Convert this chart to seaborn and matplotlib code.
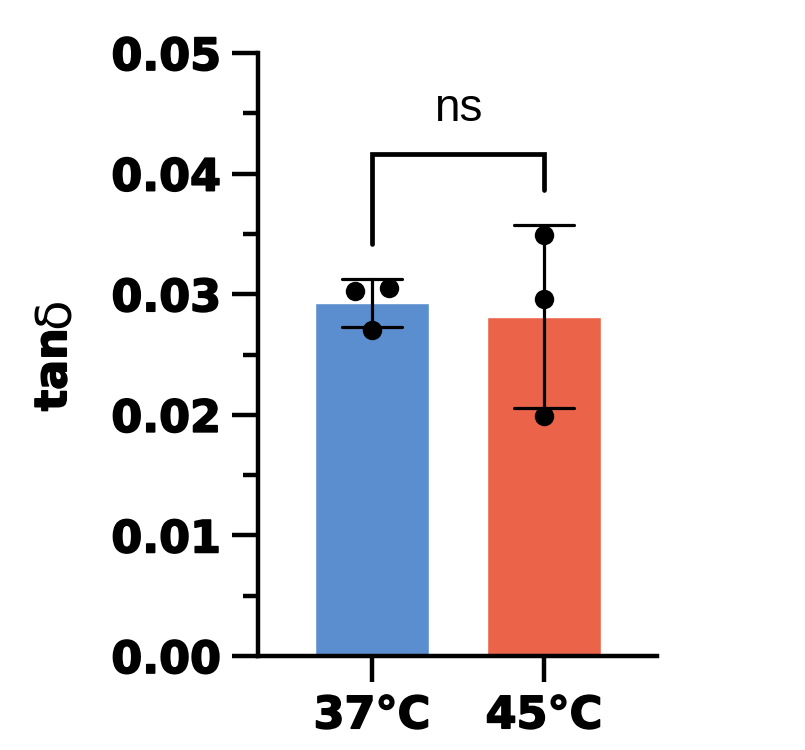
import numpy as np
import pandas as pd
import matplotlib.pyplot as plt
import matplotlib.patheffects as pe
import seaborn as sns

# datos
grupos = ['37°C', '45°C']
valores_37 = [0.0305, 0.0303, 0.0270]
valores_45 = [0.0349, 0.0296, 0.0199]
colores = ['#5B8ECE', '#EB644A']
etiqueta_sig = 'ns'

df = pd.DataFrame({
    'grupo': [grupos[0]] * len(valores_37) + [grupos[1]] * len(valores_45),
    'tan': valores_37 + valores_45,
})

sns.set_style('ticks')
plt.rcParams['font.family'] = ['DejaVu Sans']
plt.rcParams['font.weight'] = 'bold'
for k in ['text.color', 'axes.labelcolor', 'xtick.color', 'ytick.color', 'axes.edgecolor']:
    plt.rcParams[k] = 'black'

fig = plt.figure(figsize=(8.05, 7.5), dpi=100)
ax = fig.add_axes([0.3205, 0.1253, 0.4957, 0.804])

sns.barplot(data=df, x='grupo', y='tan', hue='grupo', palette=colores,
            errorbar='sd', capsize=0.35, width=0.66, saturation=1,
            err_kws={'color': 'black', 'linewidth': 2.3}, legend=False, ax=ax)
n_prev = len(ax.collections)
sns.stripplot(data=df, x='grupo', y='tan', color='black', size=14,
              jitter=False, linewidth=0, ax=ax, zorder=5)

# separar simétricamente los puntos que se solapan (como en Prism)
for col in ax.collections[n_prev:]:
    off = col.get_offsets().copy()
    if len(off) == 0:
        continue
    centro = np.round(off[:, 0].mean())
    orden = np.argsort(off[:, 1])
    grupo_pts = [orden[0]]
    clusters = []
    for i in orden[1:]:
        if off[i, 1] - off[grupo_pts[-1], 1] < 0.001:
            grupo_pts.append(i)
        else:
            clusters.append(grupo_pts)
            grupo_pts = [i]
    clusters.append(grupo_pts)
    for c in clusters:
        n = len(c)
        for j, i in enumerate(c):
            off[i, 0] = centro + (j - (n - 1) / 2) * 0.2
    col.set_offsets(off)

# barra de significancia
sd = df.groupby('grupo', sort=False)['tan'].agg(['mean', 'std'])
tops = (sd['mean'] + sd['std']).values
y_barra = tops.max() + 0.0059
ax.plot([0, 0, 1, 1], [tops[0] + 0.0029, y_barra, y_barra, tops[1] + 0.0029],
        color='black', linewidth=3.4, solid_capstyle='round', solid_joinstyle='miter')
ax.text(0.5, y_barra + 0.0037, etiqueta_sig, ha='center', va='center',
        fontsize=33, fontweight='normal', family='Liberation Sans')

ax.set_ylim(0, 0.05)
ax.set_xlim(-0.663, 1.657)
ax.set_yticks(np.arange(0, 0.051, 0.01))
ax.set_yticks(np.arange(0.005, 0.05, 0.01), minor=True)
ax.set_yticklabels([f'{v:.2f}' for v in np.arange(0, 0.051, 0.01)])
ax.tick_params(axis='both', which='major', length=18.5, width=3.2, labelsize=32, pad=8)
ax.tick_params(axis='y', which='minor', length=10.8, width=3.2)
ax.tick_params(axis='x', pad=9)
for s in ['left', 'bottom']:
    ax.spines[s].set_linewidth(3.2)
sns.despine(ax=ax)

ax.set_xlabel('')
ax.set_ylabel('tan', fontsize=32, fontweight='bold', labelpad=26)
ax.yaxis.label.set_y(0.475)
ax.annotate('δ', xy=(0, 1), xycoords=ax.yaxis.label, rotation=90,
            ha='left', va='bottom', fontsize=36, fontweight='normal')

# letra más gruesa
grueso = [pe.withStroke(linewidth=1.2, foreground='black')]
for t in ax.get_xticklabels() + ax.get_yticklabels() + [ax.yaxis.label]:
    t.set_path_effects(grueso)

fig.savefig('out.png', dpi=100)
